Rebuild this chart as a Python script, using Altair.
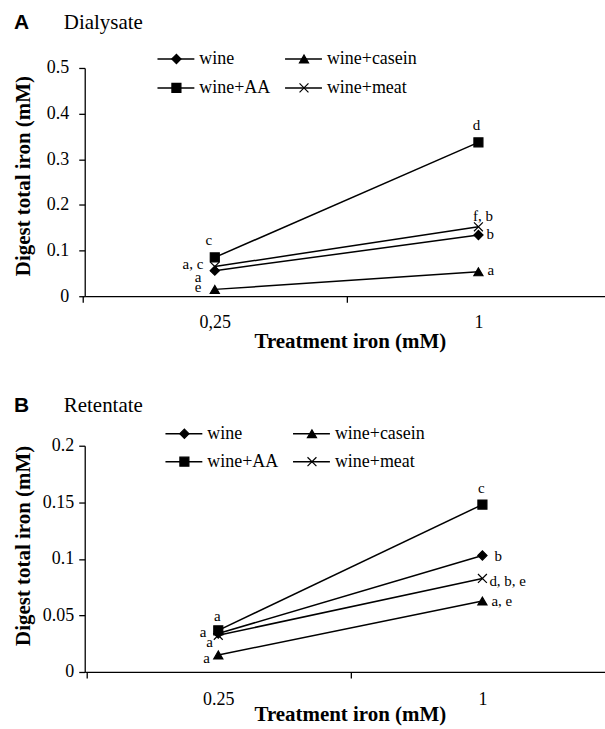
import altair as alt
import pandas as pd

# ---------------- data ----------------
series = ["wine", "wine+casein", "wine+AA", "wine+meat"]
dose_a = ["0,25", "1"]
dose_b = ["0.25", "1"]

# Panel A: Dialysate (digest total iron, mM)
dial_wine = [0.056, 0.134]
dial_casein = [0.015, 0.0535]
dial_aa = [0.085, 0.337]
dial_meat = [0.065, 0.152]

# Panel B: Retentate
ret_wine = [0.034, 0.103]
ret_casein = [0.015, 0.0627]
ret_aa = [0.0368, 0.148]
ret_meat = [0.0324, 0.0827]

# significance letters
ann_a_text = ["c", "a, c", "a", "e", "d", "f, b", "b", "a"]
ann_a_dose = [0, 0, 0, 0, 1, 1, 1, 1]
ann_a_y = [0.1235, 0.0695, 0.0428, 0.0192, 0.3748, 0.176, 0.1366, 0.0579]

ann_b_text = ["a", "a", "a", "a", "c", "b", "d, b, e", "a, e"]
ann_b_dose = [0, 0, 0, 0, 1, 1, 1, 1]
ann_b_y = [0.0492, 0.035, 0.0262, 0.0121, 0.163, 0.1021, 0.080, 0.0624]

# ---------------- layout / style ----------------
ann_a_dx = [-6, -11.5, -13.5, -13.5, -2, 4.5, 8, 9]
ann_a_align = ["center", "right", "right", "right", "center", "center", "left", "left"]
ann_b_dx = [-1, -12, -5.5, -8.5, -1, 12, 7, 9]
ann_b_align = ["center", "right", "right", "right", "center", "left", "left", "left"]

shapes = ["diamond", "triangle-up", "square", "M-1,-1L1,1M-1,1L1,-1"]
sizes = [85, 80, 80, 95]
SERIF = "Liberation Serif"
SANS = "Liberation Sans"
W = 522


def make_panel(letter, name, cats, vals, ann_text, ann_dose, ann_y, ann_dx, ann_align,
               height, ymax, ystep, px_per_unit, xmin, ylab_pad, ytitle_y, xlab_pad,
               xtitle_y, leg_cols, leg_rows, head_y):
    xmax = xmin + W / px_per_unit
    rows = []
    for s, v in zip(series, vals):
        for i, val in enumerate(v):
            rows.append({"series": s, "dose": i, "iron": val})
    df = pd.DataFrame(rows)

    nt = int(round(ymax / ystep))
    yvals = [round(k * ystep, 4) for k in range(nt + 1)]
    label_expr = "[" + ",".join("'%s'" % c for c in cats) + "][datum.value]"

    xscale = alt.Scale(domain=[xmin, xmax], nice=False, zero=False)
    yscale = alt.Scale(domain=[0, ymax], nice=False, zero=True)
    half = px_per_unit / 2.0

    def px_to_x(px):
        return xmin + px / px_per_unit

    def py_to_y(py):
        return ymax * (1 - py / height)

    xaxis = alt.Axis(values=[0, 1], labelExpr=label_expr, tickOffset=-half, labelOffset=half,
                     tickSize=6, labelPadding=xlab_pad, labelFont=SERIF, labelFontSize=18,
                     labelColor="black", domainColor="black", tickColor="black",
                     domainWidth=1.3, tickWidth=1.3, grid=False,
                     title="Treatment iron (mM)", titleFont=SERIF, titleFontSize=21,
                     titleFontWeight="bold", titleColor="black", titleX=W / 2 + 5,
                     titleY=xtitle_y, titleBaseline="middle", titleAlign="center")
    yaxis = alt.Axis(values=yvals, format="~g", tickSize=6, labelPadding=ylab_pad,
                     labelFont=SERIF, labelFontSize=18, labelColor="black",
                     domainColor="black", tickColor="black", domainWidth=1.3, tickWidth=1.3,
                     grid=False, title="Digest total iron (mM)", titleFont=SERIF,
                     titleFontSize=21, titleFontWeight="bold", titleColor="black",
                     titleX=-61, titleY=ytitle_y, titleBaseline="middle", titleAlign="center")

    shape_scale = alt.Scale(domain=series, range=shapes)
    size_scale = alt.Scale(domain=series, range=sizes)

    def X(f):
        return alt.X(f, scale=xscale, axis=xaxis)

    def Y(f):
        return alt.Y(f, scale=yscale, axis=yaxis)

    lines = alt.Chart(df).mark_line(color="black", strokeWidth=1.5).encode(
        x=X("dose:Q"), y=Y("iron:Q"), detail="series:N",
    )
    points = alt.Chart(df).mark_point(filled=True, color="black", stroke="black",
                                      strokeWidth=1.2, opacity=1).encode(
        x=X("dose:Q"), y=Y("iron:Q"),
        shape=alt.Shape("series:N", scale=shape_scale, legend=None),
        size=alt.Size("series:N", scale=size_scale, legend=None),
    )

    adf = pd.DataFrame({
        "text": ann_text,
        "ax": [d + dx / px_per_unit for d, dx in zip(ann_dose, ann_dx)],
        "ay": ann_y,
        "align": ann_align,
    })
    ann_layers = []
    for al in ["left", "right", "center"]:
        ann_layers.append(
            alt.Chart(adf).transform_filter(alt.datum.align == al).mark_text(
                align=al, baseline="middle", font=SERIF, fontSize=15, color="black"
            ).encode(x=X("ax:Q"), y=Y("ay:Q"), text="text:N")
        )

    # legend (2 x 2), placed through the panel's own scales
    lrows = []
    for k, s in enumerate(series):
        cx = leg_cols[k % 2]
        cy = leg_rows[k // 2]
        lrows.append({"series": s, "l1": px_to_x(cx), "l2": px_to_x(cx + 37),
                      "lm": px_to_x(cx + 19), "lt": px_to_x(cx + 42), "ly": py_to_y(cy)})
    ldf = pd.DataFrame(lrows)
    leg_line = alt.Chart(ldf).mark_rule(color="black", strokeWidth=1.5).encode(
        x=X("l1:Q"), x2="l2:Q", y=Y("ly:Q"),
    )
    leg_pt = alt.Chart(ldf).mark_point(filled=True, color="black", stroke="black",
                                       strokeWidth=1.2, opacity=1).encode(
        x=X("lm:Q"), y=Y("ly:Q"),
        shape=alt.Shape("series:N", scale=shape_scale, legend=None),
        size=alt.Size("series:N", scale=size_scale, legend=None),
    )
    leg_txt = alt.Chart(ldf).mark_text(align="left", baseline="middle", font=SERIF,
                                       fontSize=18, color="black").encode(
        x=X("lt:Q"), y=Y("ly:Q"), text="series:N",
    )

    head1 = alt.Chart(pd.DataFrame({"t": [letter]})).mark_text(
        align="left", baseline="alphabetic", font=SANS, fontSize=21, fontWeight="bold",
        color="black").encode(x=alt.value(-71), y=alt.value(head_y), text="t:N")
    head2 = alt.Chart(pd.DataFrame({"t": [name]})).mark_text(
        align="left", baseline="alphabetic", font=SERIF, fontSize=21, color="black").encode(
        x=alt.value(-21), y=alt.value(head_y), text="t:N")

    return alt.layer(lines, points, *ann_layers, leg_line, leg_pt, leg_txt, head1, head2).properties(
        width=W, height=height)


panel_a = make_panel("A", "Dialysate", dose_a,
                     [dial_wine, dial_casein, dial_aa, dial_meat],
                     ann_a_text, ann_a_dose, ann_a_y, ann_a_dx, ann_a_align,
                     height=229, ymax=0.5, ystep=0.1, px_per_unit=264.5, xmin=-0.4934,
                     ylab_pad=10, ytitle_y=108, xlab_pad=11, xtitle_y=45,
                     leg_cols=[73, 201], leg_rows=[-9, 20], head_y=-39)
panel_b = make_panel("B", "Retentate", dose_b,
                     [ret_wine, ret_casein, ret_aa, ret_meat],
                     ann_b_text, ann_b_dose, ann_b_y, ann_b_dx, ann_b_align,
                     height=227, ymax=0.2, ystep=0.05, px_per_unit=265, xmin=-0.5057,
                     ylab_pad=5, ytitle_y=100, xlab_pad=13, xtitle_y=43,
                     leg_cols=[81, 209], leg_rows=[-12, 16], head_y=-34)

chart = alt.vconcat(panel_a, panel_b, spacing=150, bounds="flush").properties(
    padding={"left": 12, "top": 11, "right": 0, "bottom": 0},
    background="white",
).configure_view(stroke=None)

chart.save("out.html", embed_options={"renderer": "svg", "actions": False})
